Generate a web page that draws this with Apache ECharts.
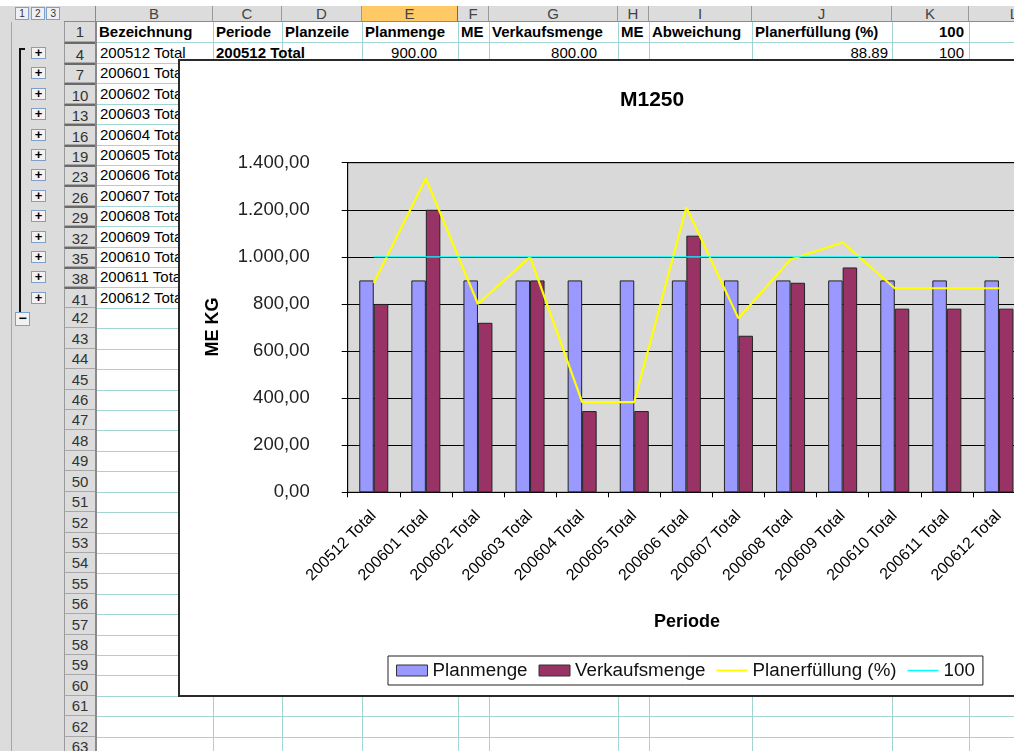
<!DOCTYPE html>
<html>
<head>
<meta charset="utf-8">
<title>M1250</title>
<script src="https://cdn.jsdelivr.net/npm/echarts@6/dist/echarts.min.js"></script>
<style>
  html, body { margin: 0; padding: 0; width: 1014px; height: 751px; overflow: hidden; background: #fff;
    font-family: "Liberation Sans", Arial, sans-serif; }
  #sheet { position: absolute; left: 0; top: 0; width: 1014px; height: 751px; overflow: hidden; }
  .c { position: absolute; white-space: nowrap; overflow: hidden; box-sizing: border-box; }
  #frame { position: absolute; left: 178px; top: 59px; width: 960px; height: 638px;
    border: 2px solid #2a2a2a; background: #fff; box-sizing: border-box; z-index: 5; }
  #chart { position: absolute; left: 0; top: 0; width: 956px; height: 634px; }
</style>
</head>
<body>
<div id="sheet"></div>
<div id="frame"><div id="chart"></div></div>
<script>
// ---- chart data ----
const categories = ['200512 Total', '200601 Total', '200602 Total', '200603 Total', '200604 Total',
  '200605 Total', '200606 Total', '200607 Total', '200608 Total', '200609 Total', '200610 Total',
  '200611 Total', '200612 Total'];
const planmenge = [900, 900, 900, 900, 900, 900, 900, 900, 900, 900, 900, 900, 900];
const verkaufsmenge = [800, 1200, 720, 900, 345, 345, 1090, 665, 890, 955, 780, 780, 780];
const planerfuellung = [88.89, 133.33, 80.00, 100.00, 38.33, 38.33, 121.11, 73.89, 98.89, 106.11, 86.67, 86.67, 86.67];
const hundert = [100, 100, 100, 100, 100, 100, 100, 100, 100, 100, 100, 100, 100];
const yTickLabels = ['0,00', '200,00', '400,00', '600,00', '800,00', '1.000,00', '1.200,00', '1.400,00'];

// ---- worksheet data ----
const columnLetters = ['B', 'C', 'D', 'E', 'F', 'G', 'H', 'I', 'J', 'K', 'L'];
const headerCells = ['Bezeichnung', 'Periode', 'Planzeile', 'Planmenge', 'ME', 'Verkaufsmenge', 'ME',
  'Abweichung', 'Planerfüllung (%)', '100'];
const rowNumbers = [1, 4, 7, 10, 13, 16, 19, 23, 26, 29, 32, 35, 38, 41];
for (let r = 42; r <= 63; r++) rowNumbers.push(r);

// ---- worksheet drawing ----
const sheet = document.getElementById('sheet');
function box(l, t, w, h, css, text) {
  const d = document.createElement('div');
  d.className = 'c';
  d.style.cssText = 'left:' + l + 'px;top:' + t + 'px;width:' + w + 'px;height:' + h + 'px;' + (css || '');
  if (text != null) d.textContent = text;
  sheet.appendChild(d);
  return d;
}
const colEdges = [96, 213, 282, 362, 458, 489, 618, 649, 752, 892, 969, 1060];
const ROW0 = 22, ROWH = 20.42;
const rowTop = i => ROW0 + i * ROWH;
const GRID = '#a3d4d4';
const PANEL = '#dcdcdc';

// outline pane and row header strip
box(0, 6, 96, 745, 'background:' + PANEL + ';');
box(11, 22, 1, 729, 'background:#a6a6a6;');
// column header strip
box(64, 6, 950, 16, 'background:' + PANEL + ';border-bottom:1px solid #8a8a8a;');
box(64, 6, 32, 16, 'border-right:1px solid #8a8a8a;');
for (let i = 0; i < columnLetters.length; i++) {
  const l = colEdges[i], w = colEdges[i + 1] - colEdges[i];
  const sel = columnLetters[i] === 'E';
  box(l, 6, w, 16,
    'text-align:center;font-size:15px;line-height:16px;color:#444;' +
    'border-right:1px solid ' + (sel ? '#5a6a96' : '#9a9a9a') + ';border-bottom:1px solid #8a8a8a;' +
    (sel ? 'background:#ffc966;' : ''), columnLetters[i]);
}
// outline level buttons
['1', '2', '3'].forEach((t, i) => {
  box(15 + i * 15.7, 7, 14, 13,
    'border:1px solid #7f9fc8;background:#eef0f4;font-size:10px;line-height:11px;text-align:center;color:#333;', t);
});
// cell grid lines
for (let i = 1; i < rowNumbers.length + 1; i++) {
  box(96, Math.round(rowTop(i)), 918, 1, 'background:' + GRID + ';');
}
for (let i = 1; i < colEdges.length - 1; i++) {
  box(colEdges[i], 22, 1, 729, 'background:' + GRID + ';');
}
box(95, 22, 2, 729, 'background:#8a8a8a;');
// row headers
rowNumbers.forEach((n, i) => {
  const t = Math.round(rowTop(i)), b = Math.round(rowTop(i + 1));
  const afterHidden = i > 0 && n !== rowNumbers[i - 1] + 1;
  box(64, t, 31, b - t,
    'background:' + PANEL + ';border-bottom:1px solid #a8a8a8;border-left:1px solid #9a9a9a;' +
    (afterHidden ? 'border-top:2px solid #6a6a6a;' : '') +
    'text-align:center;font-size:15px;line-height:' + (b - t) + 'px;color:#333;', String(n));
  if (afterHidden) {
    const cy = (t + b) / 2;
    box(31, cy - 6, 15, 12,
      'border:1px solid #7f9fc8;background:#f2f2f2;font-weight:bold;font-size:13px;line-height:9px;text-align:center;color:#000;', '+');
  }
});
// outline bracket and collapse button
box(19, 48, 2, 264, 'background:#111;');
box(19, 48, 6, 2, 'background:#111;');
box(15, 312, 15, 14, 'border:1px solid #7f9fc8;background:#f2f2f2;font-weight:bold;font-size:14px;line-height:10px;text-align:center;color:#000;', '\u2212');

// header row texts
const r1t = Math.round(rowTop(0)), r1h = Math.round(rowTop(1)) - r1t;
headerCells.forEach((txt, i) => {
  const l = colEdges[i], w = colEdges[i + 1] - colEdges[i];
  const right = txt === '100';
  box(l + 1, r1t, w - 2, r1h,
    'font-weight:bold;font-size:15px;line-height:' + r1h + 'px;color:#000;padding:0 4px 0 2px;' +
    (right ? 'text-align:right;' : ''), txt);
});
// first data row
const r4t = Math.round(rowTop(1)), r4h = Math.round(rowTop(2)) - r4t;
const fmt2 = v => v.toFixed(2);
const rowCell = (ci, txt, css, spill) => {
  const l = colEdges[ci], w = colEdges[ci + 1] - colEdges[ci];
  box(l + 1, r4t, w - 2 + (spill || 0), r4h, 'font-size:15px;line-height:' + r4h + 'px;color:#000;' + css, txt);
};
rowCell(0, categories[0], 'padding-left:3px;');
rowCell(1, categories[0], 'padding-left:2px;font-weight:bold;', 80); // spills into the empty D cell
rowCell(3, fmt2(planmenge[0]), 'text-align:right;padding-right:20px;');
rowCell(5, fmt2(verkaufsmenge[0]), 'text-align:right;padding-right:20px;');
rowCell(8, fmt2(planerfuellung[0]), 'text-align:right;padding-right:3px;');
rowCell(9, String(hundert[0]), 'text-align:right;padding-right:4px;');
// remaining Bezeichnung cells (mostly hidden behind the chart)
for (let i = 1; i < categories.length; i++) {
  const t = Math.round(rowTop(i + 1)), h = Math.round(rowTop(i + 2)) - t;
  box(97, t, 115, h, 'font-size:15px;line-height:' + h + 'px;color:#000;padding-left:3px;', categories[i]);
}

// ---- chart ----
const FONT = '"Liberation Sans", Arial, sans-serif';
const chart = echarts.init(document.getElementById('chart'), null, { renderer: 'canvas' });
chart.setOption({
  animation: false,
  backgroundColor: '#fff',
  textStyle: { fontFamily: FONT },
  title: {
    text: 'M1250', left: 440, top: 29, padding: 0,
    textStyle: { fontSize: 21, fontWeight: 'bold', color: '#000', fontFamily: FONT }
  },
  legend: {
    left: 208, top: 595, orient: 'horizontal',
    padding: [5, 8, 5, 8], itemGap: 11, itemWidth: 31, itemHeight: 11,
    borderColor: '#222', borderWidth: 1, backgroundColor: '#fff',
    selectedMode: false,
    textStyle: { fontSize: 18.8, color: '#111', fontFamily: FONT },
    data: [
      { name: 'Planmenge', icon: 'rect', itemStyle: { color: '#9999ff', borderColor: '#333', borderWidth: 1 } },
      { name: 'Verkaufsmenge', icon: 'rect', itemStyle: { color: '#993366', borderColor: '#333', borderWidth: 1 } },
      { name: 'Planerfüllung (%)', icon: 'path://M0,0H32V2H0Z', itemStyle: { color: '#ffff00', borderWidth: 0 } },
      { name: '100', icon: 'path://M0,0H32V1.5H0Z', itemStyle: { color: '#00ffff', borderWidth: 0 } }
    ]
  },
  grid: {
    left: 167.7, top: 101.7, width: 677.3, height: 329.6,
    show: true, backgroundColor: '#d9d9d9', borderColor: '#111', borderWidth: 1,
    containLabel: false, outerBoundsMode: 'none'
  },
  xAxis: {
    type: 'category', data: categories, boundaryGap: true,
    axisLine: { show: true, lineStyle: { color: '#000', width: 1 } },
    axisTick: { show: true, length: 5, alignWithLabel: false, lineStyle: { color: '#000' } },
    axisLabel: { interval: 0, rotate: 45, margin: 21, fontSize: 16, color: '#000', fontFamily: FONT },
    splitLine: { show: false }
  },
  yAxis: [
    {
      type: 'value', min: 0, max: 1400, interval: 200,
      axisLine: { show: true, lineStyle: { color: '#000', width: 1 } },
      axisTick: { show: true, length: 6, lineStyle: { color: '#000' } },
      axisLabel: { margin: 38, fontSize: 18.5, color: '#222', fontFamily: FONT,
        formatter: v => yTickLabels[Math.round(v / 200)] },
      splitLine: { show: true, lineStyle: { color: '#000', width: 1 } }
    },
    { type: 'value', min: 0, max: 140, interval: 20, show: false, splitLine: { show: false } }
  ],
  graphic: [
    { type: 'text', x: 33.5, y: 266, rotation: Math.PI / 2,
      style: { text: 'ME KG', font: 'bold 18px ' + FONT, fill: '#000', align: 'center', verticalAlign: 'middle' } },
    { type: 'text', x: 507, y: 561,
      style: { text: 'Periode', font: 'bold 18px ' + FONT, fill: '#000', align: 'center', verticalAlign: 'middle' } }
  ],
  series: [
    { name: 'Planmenge', type: 'bar', data: planmenge, barWidth: 14.5, barGap: '0%',
      itemStyle: { color: '#9999ff', borderColor: '#222', borderWidth: 1 } },
    { name: 'Verkaufsmenge', type: 'bar', data: verkaufsmenge, barWidth: 14.5, barGap: '0%',
      itemStyle: { color: '#993366', borderColor: '#222', borderWidth: 1 } },
    { name: 'Planerfüllung (%)', type: 'line', yAxisIndex: 1, data: planerfuellung, symbol: 'none',
      lineStyle: { color: '#ffff00', width: 2.2 }, itemStyle: { color: '#ffff00' } },
    { name: '100', type: 'line', yAxisIndex: 1, data: hundert, symbol: 'none',
      lineStyle: { color: '#00ffff', width: 1.2 }, itemStyle: { color: '#00ffff' } }
  ]
});
</script>
</body>
</html>
